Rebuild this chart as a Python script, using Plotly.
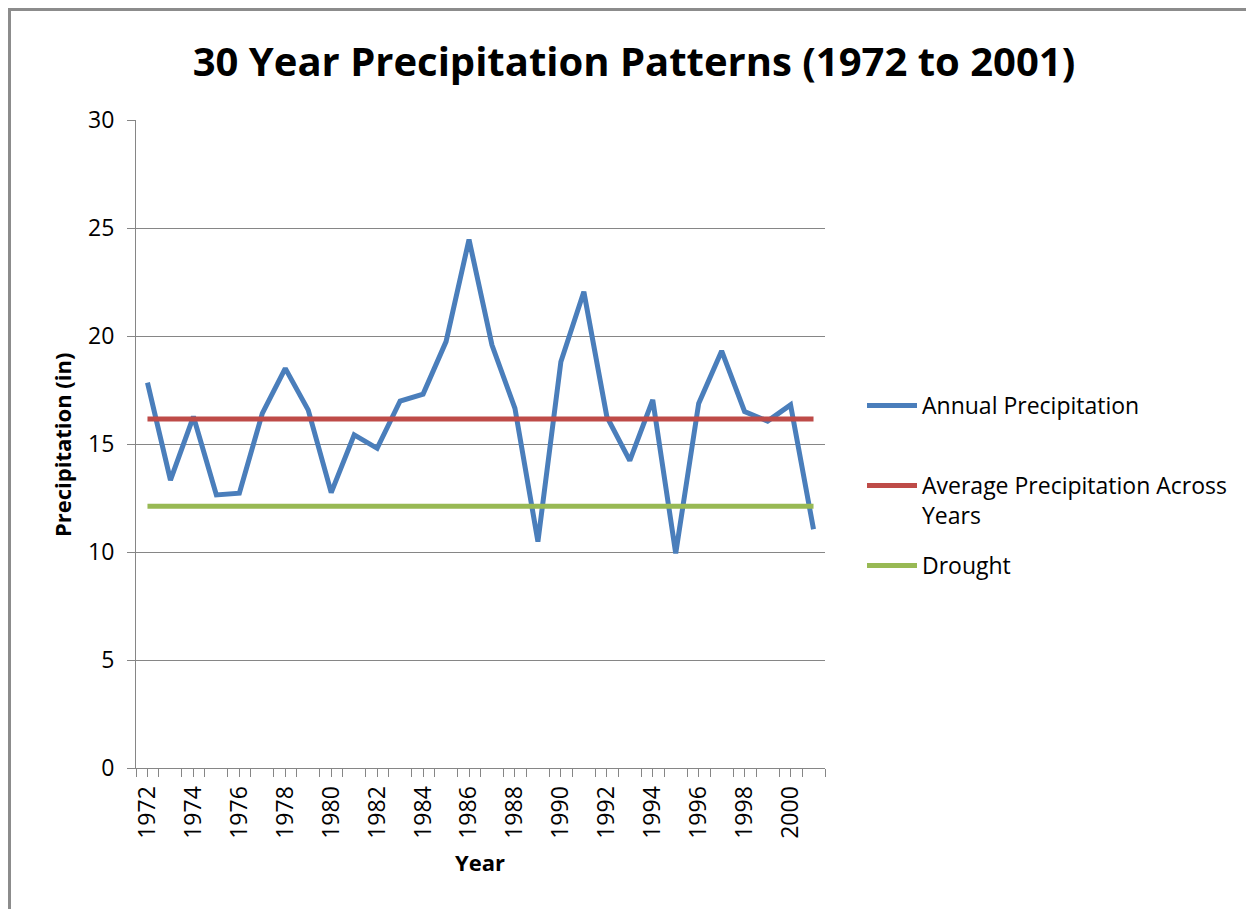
import plotly.graph_objects as go

years = list(range(1972, 2002))
annual_precip = [17.84, 13.33, 16.27, 12.64, 12.72, 16.42, 18.50, 16.57, 12.75, 15.42,
                 14.80, 16.99, 17.31, 19.74, 24.47, 19.58, 16.65, 10.48, 18.81, 22.05,
                 16.27, 14.23, 17.04, 9.94, 16.88, 19.31, 16.50, 16.06, 16.81, 11.05]
average_value = 16.16
drought_value = 12.12
average_precip = [average_value] * len(years)
drought_precip = [drought_value] * len(years)
x_tick_labels = [str(y) for y in range(1972, 2001, 2)]
y_tick_values = [0, 5, 10, 15, 20, 25, 30]

OFF = 8  # page offset of the figure inside the browser window
W, H = 1254 - OFF, 909 - OFF
# plot area in screen coordinates
SL, SR, ST, SB = 136, 825, 120, 768
L, R, T, B = SL - OFF, SR - OFF, ST - OFF, SB - OFF


def px(sx):
    return (sx - SL) / (SR - SL)


def py(sy):
    return (SB - sy) / (SB - ST)


font_family = "Open Sans, Noto Sans, sans-serif"
grid_col = "#868686"

fig = go.Figure()
fig.add_trace(go.Scatter(x=years, y=annual_precip, mode="lines", name="Annual Precipitation",
                         line=dict(color="#4A7EBB", width=5), legend="legend"))
fig.add_trace(go.Scatter(x=years, y=average_precip, mode="lines",
                         name="Average Precipitation Across<br>Years",
                         line=dict(color="#BE4B48", width=5), legend="legend2"))
fig.add_trace(go.Scatter(x=years, y=drought_precip, mode="lines", name="Drought",
                         line=dict(color="#98B954", width=5), legend="legend3"))


def legend_style(top_sy):
    return dict(x=px(862), xanchor="left", y=py(top_sy), yanchor="top",
                font=dict(size=23, family=font_family, color="black"),
                bgcolor="rgba(0,0,0,0)", itemwidth=50, valign="top")


fig.update_layout(
    width=W, height=H,
    margin=dict(l=L, r=W - R, t=T, b=H - B, autoexpand=False),
    paper_bgcolor="white", plot_bgcolor="white",
    font=dict(family=font_family, color="black", size=22),
    title=dict(text="<b>30 Year Precipitation Patterns (1972 to 2001)</b>",
               font=dict(size=40, family=font_family, color="black"),
               x=px(634), xref="paper", xanchor="center",
               y=1 - (62 - OFF) / H, yref="container", yanchor="middle"),
    showlegend=True,
    legend=legend_style(384),
    legend2=legend_style(464),
    legend3=legend_style(544),
    xaxis=dict(range=[1971.5, 2001.5], tickmode="array",
               tickvals=[int(t) for t in x_tick_labels], ticktext=x_tick_labels,
               tickangle=-90, ticks="outside", ticklen=8, tickcolor=grid_col,
               showgrid=False, showline=True, linecolor=grid_col, linewidth=1,
               tickfont=dict(size=23), zeroline=False,
               minor=dict(ticks="outside", ticklen=8, tickcolor=grid_col,
                          tickmode="linear", tick0=1971.5, dtick=1, showgrid=False)),
    yaxis=dict(range=[0, 30], tickmode="array", tickvals=y_tick_values,
               ticks="outside", ticklen=8, tickcolor=grid_col,
               showgrid=True, gridcolor=grid_col, gridwidth=1,
               showline=True, linecolor=grid_col, linewidth=1,
               tickfont=dict(size=23), zeroline=False, ticklabelstandoff=8),
    annotations=[
        dict(text="<b>Precipitation (in)</b>", xref="paper", yref="paper",
             x=px(62), y=py(445), xanchor="center", yanchor="middle",
             textangle=-90, showarrow=False, font=dict(size=22, family=font_family, color="black")),
        dict(text="<b>Year</b>", xref="paper", yref="paper",
             x=px(480), y=py(862), xanchor="center", yanchor="middle",
             showarrow=False, font=dict(size=22, family=font_family, color="black")),
    ],
    shapes=[
        dict(type="rect", xref="paper", yref="paper",
             x0=px(OFF + 1.5), x1=px(1254 + 20),
             y0=py(909 + 20), y1=py(OFF + 1.5),
             line=dict(color="#8C8C8C", width=3), fillcolor="rgba(0,0,0,0)", layer="below"),
    ],
)

fig.write_html("out.html")
